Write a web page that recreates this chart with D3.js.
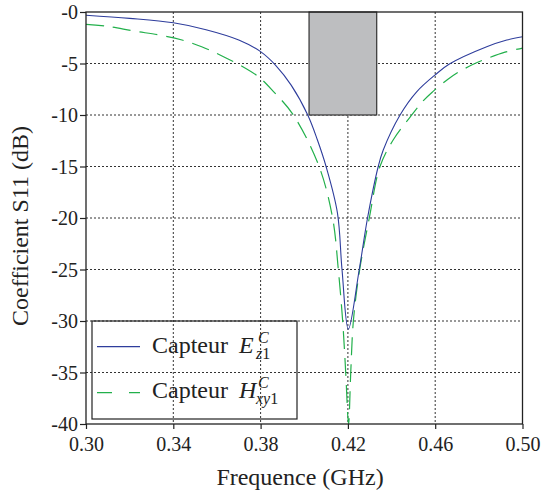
<html>
<head>
<script src="https://cdn.jsdelivr.net/npm/d3@7"></script>
</head>
<body style="margin:0">
<svg id="chart" width="546" height="493" font-family="Liberation Serif"></svg>
<script>
// ---- data ----
const xTicks = [0.30, 0.34, 0.38, 0.42, 0.46, 0.50];
const yTicks = [0, -5, -10, -15, -20, -25, -30, -35, -40];

const freqE = [0.300, 0.320, 0.340, 0.355, 0.370, 0.380, 0.387, 0.394, 0.4016, 0.406, 0.410, 0.4152, 0.4173, 0.4202, 0.4252, 0.4290, 0.4339, 0.4362, 0.4439, 0.4515, 0.460, 0.4665, 0.4836, 0.4928, 0.500];
const s11E  = [-0.32, -0.62, -1.05, -1.72, -2.72, -3.85, -5.2, -7.1, -10.0, -12.4, -15.0, -19.5, -25.0, -30.8, -25.0, -20.0, -15.0, -13.4, -10.0, -7.75, -6.1, -5.05, -3.37, -2.72, -2.4];

const freqH = [0.300, 0.310, 0.322, 0.334, 0.344, 0.353, 0.3614, 0.3705, 0.379, 0.3858, 0.395, 0.4068, 0.4130, 0.4156, 0.4176, 0.419, 0.4203, 0.4213, 0.4225, 0.4254, 0.4298, 0.4347, 0.4408, 0.4485, 0.4546, 0.4588, 0.466, 0.4698, 0.4767, 0.484, 0.492, 0.500];
const s11H  = [-1.2, -1.4, -1.85, -2.25, -2.72, -3.37, -4.17, -5.15, -6.28, -7.7, -10.0, -15.0, -20.0, -25.0, -30.0, -35.0, -40.0, -35.0, -30.0, -25.0, -20.0, -15.0, -12.4, -10.2, -8.6, -7.75, -6.5, -5.95, -5.15, -4.5, -3.9, -3.5];

const bandStart = 0.4022, bandEnd = 0.4332, bandTop = 0, bandBottom = -10;

const xLabel = "Frequence (GHz)";
const yLabel = "Coefficient S11 (dB)";
const legendNames = ["Capteur", "Capteur"];
const legendSymbols = ["E", "H"];
const legendSups = ["C", "C"];
const legendSubs = ["z", "xy"];
const legendSubIdx = ["1", "1"];

// ---- layout ----
const FONT = "Liberation Serif";
const svg = d3.select("#chart");
const L = 86, R = 522.5, T = 12, B = 424;
const x = d3.scaleLinear().domain([0.30, 0.50]).range([L, R]);
const y = d3.scaleLinear().domain([-40, 0]).range([B, T]);

const blue = "#2e3d9c", green = "#22b04b";

// titles first (plain svg text)
svg.append("text").attr("x", 300).attr("y", 485).attr("text-anchor", "middle")
  .attr("font-family", FONT).style("font-family", FONT).attr("font-size", 24)
  .attr("fill", "#222").text(xLabel);
svg.append("text").attr("transform", "translate(28,226) rotate(-90)")
  .attr("text-anchor", "middle").attr("font-family", FONT).style("font-family", FONT)
  .attr("font-size", 24).attr("fill", "#222").text(yLabel);

// grid
const grid = svg.append("g");
grid.selectAll("line.v").data(xTicks.slice(1, -1)).join("line")
  .attr("x1", d => x(d)).attr("x2", d => x(d)).attr("y1", T).attr("y2", B)
  .attr("stroke", "#333").attr("stroke-width", 1).attr("stroke-dasharray", "2,2");
grid.selectAll("line.h").data(yTicks.slice(1, -1)).join("line")
  .attr("y1", d => y(d)).attr("y2", d => y(d)).attr("x1", L).attr("x2", R)
  .attr("stroke", "#333").attr("stroke-width", 1).attr("stroke-dasharray", "2,2");

// band rectangle
svg.append("rect")
  .attr("x", x(bandStart)).attr("y", y(bandTop))
  .attr("width", x(bandEnd) - x(bandStart)).attr("height", y(bandBottom) - y(bandTop))
  .attr("fill", "#bdbec0").attr("stroke", "#333").attr("stroke-width", 1.2);

// curves
const line = d3.line().x(d => x(d[0])).y(d => y(d[1])).curve(d3.curveCatmullRom.alpha(0.5));
svg.append("clipPath").attr("id", "clip").append("rect")
  .attr("x", L).attr("y", T).attr("width", R - L).attr("height", B - T);
svg.append("path").datum(d3.zip(freqH, s11H)).attr("d", line)
  .attr("fill", "none").attr("stroke", green).attr("stroke-width", 1.2)
  .attr("stroke-dasharray", "18,9").attr("clip-path", "url(#clip)");
svg.append("path").datum(d3.zip(freqE, s11E)).attr("d", line)
  .attr("fill", "none").attr("stroke", blue).attr("stroke-width", 1.1)
  .attr("clip-path", "url(#clip)");

// frame
svg.append("rect").attr("x", L).attr("y", T).attr("width", R - L).attr("height", B - T)
  .attr("fill", "none").attr("stroke", "#222").attr("stroke-width", 1.3);

// axes
const yAxis = d3.axisLeft(y).tickValues(yTicks).tickSize(6).tickPadding(2)
  .tickFormat(d => "-" + Math.abs(d));
const gy = svg.append("g").attr("transform", `translate(${L},0)`).call(yAxis);
gy.attr("font-family", FONT).attr("font-size", 20);
gy.select(".domain").remove();
gy.selectAll(".tick line").attr("stroke", "#222").attr("stroke-width", 1.2);
gy.selectAll(".tick text").attr("font-family", FONT).style("font-family", FONT)
  .attr("font-size", 20).attr("fill", "#222").attr("dy", "0.34em");

const xAxis = d3.axisBottom(x).tickValues(xTicks).tickSize(5).tickPadding(6)
  .tickFormat(d3.format(".2f"));
const gx = svg.append("g").attr("transform", `translate(0,${B})`).call(xAxis);
gx.attr("font-family", FONT).attr("font-size", 20);
gx.select(".domain").remove();
gx.selectAll(".tick line").attr("stroke", "#222").attr("stroke-width", 1.2);
gx.selectAll(".tick text").attr("font-family", FONT).style("font-family", FONT)
  .attr("font-size", 20).attr("fill", "#222").attr("dy", "0.8em");

// legend
const lg = svg.append("g");
lg.append("rect").attr("x", 92).attr("y", 321).attr("width", 205).attr("height", 98)
  .attr("fill", "none").attr("stroke", "#222").attr("stroke-width", 1.2);
const entries = [
  { color: blue, dash: null, ly: 346.7, base: 353.3 },
  { color: green, dash: "15,17", ly: 392.7, base: 397.7 }
];
entries.forEach((e, i) => {
  lg.append("line").attr("x1", 97).attr("x2", 140).attr("y1", e.ly).attr("y2", e.ly)
    .attr("stroke", e.color).attr("stroke-width", 1.2).attr("stroke-dasharray", e.dash);
  lg.append("text").attr("x", 152).attr("y", e.base).attr("font-family", FONT).style("font-family", FONT)
    .attr("font-size", 24).attr("fill", "#222").text(legendNames[i]);
  lg.append("text").attr("x", 239).attr("y", e.base).attr("font-family", FONT).style("font-family", FONT)
    .attr("font-size", 24).attr("fill", "#222").attr("font-style", "italic").text(legendSymbols[i]);
  lg.append("text").attr("x", 258).attr("y", e.base - 10).attr("font-family", FONT).style("font-family", FONT)
    .attr("font-size", 16).attr("fill", "#222").attr("font-style", "italic").text(legendSups[i]);
  const st = lg.append("text").attr("x", 256).attr("y", e.base + 6).attr("font-family", FONT)
    .style("font-family", FONT).attr("font-size", 16).attr("fill", "#222");
  st.append("tspan").attr("font-style", "italic").text(legendSubs[i]);
  st.append("tspan").text(legendSubIdx[i]);
});
</script>
</body>
</html>
